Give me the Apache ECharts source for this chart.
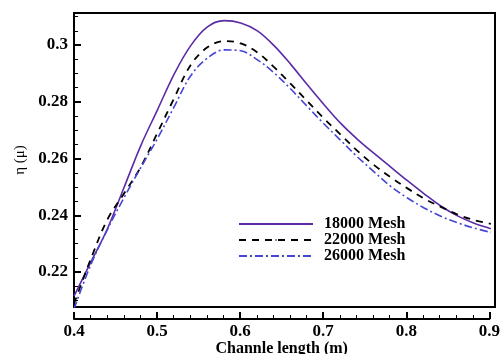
<!DOCTYPE html>
<html>
<head>
<meta charset="utf-8">
<script src="https://cdn.jsdelivr.net/npm/echarts@6/dist/echarts.min.js"></script>
<style>html,body{margin:0;padding:0;background:#fff;}#c{width:503px;height:354px;}</style>
</head>
<body>
<div id="c"></div>
<script>
var xValues = [0.40,0.42,0.44,0.46,0.48,0.50,0.52,0.54,0.56,0.58,0.60,0.62,0.64,0.66,0.68,0.70,0.72,0.74,0.76,0.78,0.80,0.82,0.84,0.86,0.88,0.90];
var mesh18000 = [0.2115,0.2234,0.2352,0.2498,0.2645,0.2771,0.2897,0.2998,0.3064,0.3086,0.3078,0.3050,0.2998,0.2932,0.2860,0.2790,0.2724,0.2668,0.2618,0.2570,0.2522,0.2476,0.2433,0.2398,0.2372,0.2353];
var mesh22000 = [0.2088,0.2245,0.2385,0.2477,0.2570,0.2690,0.2812,0.2930,0.2992,0.3014,0.3006,0.2974,0.2922,0.2863,0.2802,0.2741,0.2684,0.2627,0.2577,0.2534,0.2495,0.2459,0.2430,0.2403,0.2383,0.2370];
var mesh26000 = [0.2070,0.2225,0.2350,0.2462,0.2568,0.2670,0.2782,0.2892,0.2954,0.2983,0.2980,0.2948,0.2902,0.2845,0.2783,0.2722,0.2664,0.2606,0.2553,0.2502,0.2461,0.2426,0.2397,0.2374,0.2355,0.2340];
var seriesNames = ['18000 Mesh','22000 Mesh','26000 Mesh'];
var xTicks = [0.4,0.5,0.6,0.7,0.8,0.9];

function pairs(ys){ return xValues.map(function(x,i){ return [x, ys[i]]; }); }

var font = 'Liberation Serif, Times New Roman, serif';
var chart = echarts.init(document.getElementById('c'), null, {renderer:'canvas'});
chart.setOption({
  animation: false,
  backgroundColor: '#fff',
  grid: [
    {left: 74, top: 13, width: 421, height: 294, show: true, borderColor: '#000', borderWidth: 2, backgroundColor: 'transparent'},
    {left: 74, top: 319, width: 416, height: 0}
  ],
  xAxis: [
    {gridIndex: 0, type: 'value', min: 0.4, max: 0.905, show: false},
    {gridIndex: 1, type: 'value', min: xTicks[0], max: xTicks[xTicks.length-1], interval: 0.1,
     axisLine: {show: true, lineStyle: {color: '#000', width: 2}},
     axisTick: {show: true, inside: true, length: 7, lineStyle: {color: '#000', width: 2}},
     minorTick: {show: true, splitNumber: 5, length: 4, lineStyle: {color: '#000', width: 1}},
     splitLine: {show: false},
     axisLabel: {margin: 4, color: '#000', fontFamily: font, fontWeight: 'bold', fontSize: 17,
       formatter: function(v){ return String(Math.round(v*10)/10); }},
     name: 'Channle length (m)', nameLocation: 'middle', nameGap: 18,
     nameTextStyle: {color: '#000', fontFamily: font, fontWeight: 'bold', fontSize: 16}}
  ],
  yAxis: [
    {gridIndex: 0, type: 'value', min: 0.2077, max: 0.3113, splitNumber: 5,
     axisLine: {show: true, lineStyle: {color: '#000', width: 2}},
     axisTick: {show: true, inside: true, length: 7, lineStyle: {color: '#000', width: 2}},
     minorTick: {show: true, splitNumber: 4, length: 4, lineStyle: {color: '#000', width: 1}},
     splitLine: {show: false},
     axisLabel: {margin: 6, color: '#000', fontFamily: font, fontWeight: 'bold', fontSize: 17,
       showMinLabel: false, showMaxLabel: false,
       formatter: function(v){ return String(Math.round(v*100)/100); }},
     name: 'η (μ)', nameLocation: 'middle', nameRotate: 90, nameGap: 46,
     nameTextStyle: {color: '#000', fontFamily: font, fontSize: 15}},
    {gridIndex: 1, type: 'value', show: false}
  ],
  legend: {
    orient: 'vertical', left: 238, top: 216, padding: 0, itemWidth: 74, itemHeight: 2, itemGap: 0,
    textStyle: {color: '#000', fontFamily: font, fontWeight: 'bold', fontSize: 16, padding: [0,0,0,6], lineHeight: 14.5},
    data: seriesNames
  },
  series: [
    {name: seriesNames[0], type: 'line', data: pairs(mesh18000), smooth: 0.35, symbol: 'none', clip: true,
     lineStyle: {color: '#5b2ba6', width: 1.6, type: 'solid'}, itemStyle: {color: '#5b2ba6'}},
    {name: seriesNames[1], type: 'line', data: pairs(mesh22000), smooth: 0.35, symbol: 'none', clip: true,
     lineStyle: {color: '#000', width: 1.8, type: [7, 6]}, itemStyle: {color: '#000'}},
    {name: seriesNames[2], type: 'line', data: pairs(mesh26000), smooth: 0.35, symbol: 'none', clip: true,
     lineStyle: {color: '#4646d6', width: 1.6, type: [8, 3, 2, 3]}, itemStyle: {color: '#4646d6'}}
  ]
});
</script>
</body>
</html>
